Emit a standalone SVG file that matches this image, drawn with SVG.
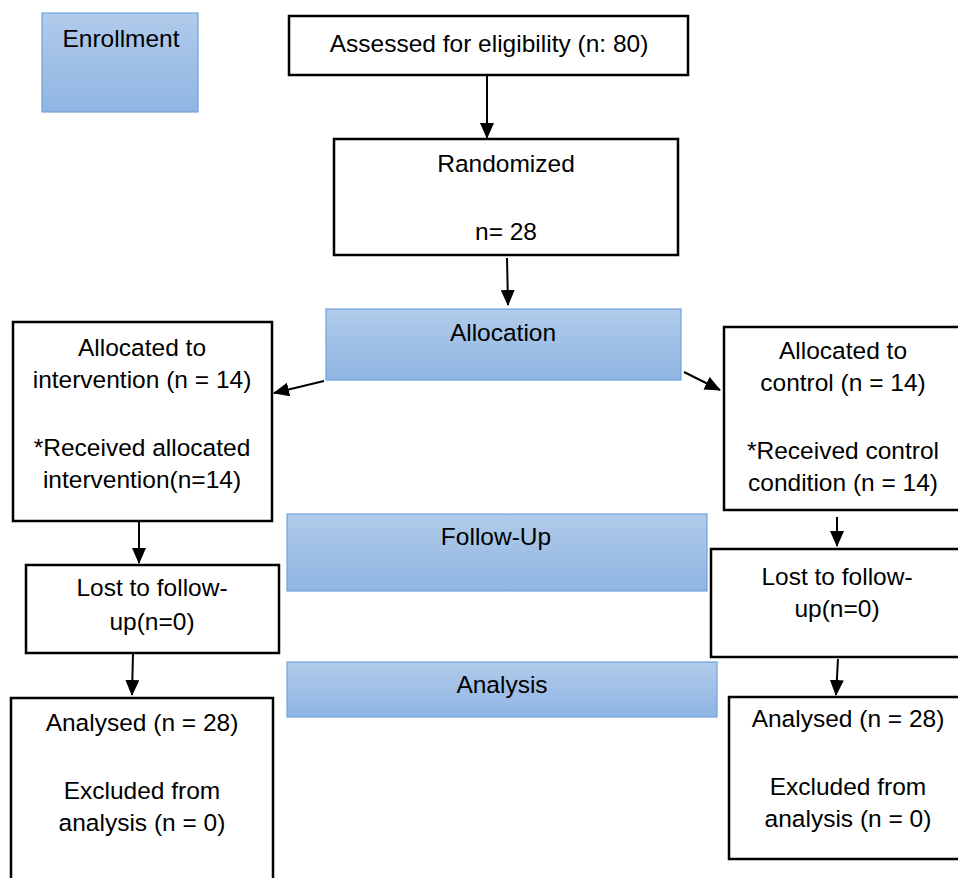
<svg xmlns="http://www.w3.org/2000/svg" width="958" height="878" viewBox="0 0 958 878">
<defs>
<linearGradient id="bg" x1="0" y1="0" x2="0" y2="1">
<stop offset="0" stop-color="#b1cbea"/>
<stop offset="1" stop-color="#8fb5e3"/>
</linearGradient>
<marker id="ah2" markerWidth="16" markerHeight="14" refX="15" refY="7" orient="auto" markerUnits="userSpaceOnUse">
<path d="M0,0 L16,7 L0,14 Z" fill="#000"/>
</marker>
</defs>
<style>
.box{fill:#fff;stroke:#000;stroke-width:2.5}
.stage{fill:url(#bg);stroke:#6fa3dd;stroke-width:1.2}
text{font-family:"Liberation Sans",Arial,sans-serif;font-size:24.5px;fill:#000;text-anchor:middle}
.c{stroke:#000;stroke-width:2;fill:none;marker-end:url(#ah2)}
</style>
<rect width="958" height="878" fill="#fff"/>
<g id="enrollment"><rect class="stage" x="42" y="13" width="156" height="99"/><text x="121" y="47">Enrollment</text></g>
<g id="assessed"><rect class="box" x="289" y="16" width="399" height="59"/><text x="489" y="52">Assessed for eligibility (n: 80)</text></g>
<g id="randomized"><rect class="box" x="334" y="139" width="344" height="116"/><text x="506" y="172">Randomized</text><text x="506" y="240">n= 28</text></g>
<g id="allocation"><rect class="stage" x="326" y="309" width="355" height="71"/><text x="503" y="341">Allocation</text></g>
<g id="alloc-int"><rect class="box" x="13" y="322" width="259" height="199"/><text x="142" y="356">Allocated to</text><text x="142" y="388">intervention (n = 14)</text><text x="142" y="456">*Received allocated</text><text x="142" y="488">intervention(n=14)</text></g>
<g id="alloc-ctl"><rect class="box" x="724" y="327" width="240" height="183"/><text x="843" y="359">Allocated to</text><text x="843" y="391">control (n = 14)</text><text x="843" y="459">*Received control</text><text x="843" y="491">condition (n = 14)</text></g>
<g id="followup"><rect class="stage" x="287" y="514" width="420" height="77"/><text x="496" y="545">Follow-Up</text></g>
<g id="lost-int"><rect class="box" x="26" y="565" width="253" height="88"/><text x="152" y="596">Lost to follow-</text><text x="152" y="630">up(n=0)</text></g>
<g id="lost-ctl"><rect class="box" x="711" y="549" width="260" height="108"/><text x="837" y="585">Lost to follow-</text><text x="837" y="617">up(n=0)</text></g>
<g id="analysis"><rect class="stage" x="287" y="662" width="430" height="55"/><text x="502" y="693">Analysis</text></g>
<g id="analysed-int"><rect class="box" x="11" y="698" width="262" height="200"/><text x="142" y="731">Analysed (n = 28)</text><text x="142" y="799">Excluded from</text><text x="142" y="831">analysis (n = 0)</text></g>
<g id="analysed-ctl"><rect class="box" x="729" y="697" width="240" height="162"/><text x="848" y="727">Analysed (n = 28)</text><text x="848" y="795">Excluded from</text><text x="848" y="827">analysis (n = 0)</text></g>
<g id="connectors">
<line class="c" x1="487" y1="75" x2="487" y2="138"/>
<line class="c" x1="507" y1="258" x2="508" y2="305"/>
<line class="c" x1="324" y1="381" x2="274" y2="393"/>
<line class="c" x1="684" y1="372" x2="720" y2="390"/>
<line class="c" x1="139" y1="522" x2="139" y2="563"/>
<line class="c" x1="133" y1="653" x2="132" y2="695"/>
<line class="c" x1="837" y1="517" x2="837" y2="546"/>
<line class="c" x1="838" y1="659" x2="836" y2="695"/>
</g>
</svg>
